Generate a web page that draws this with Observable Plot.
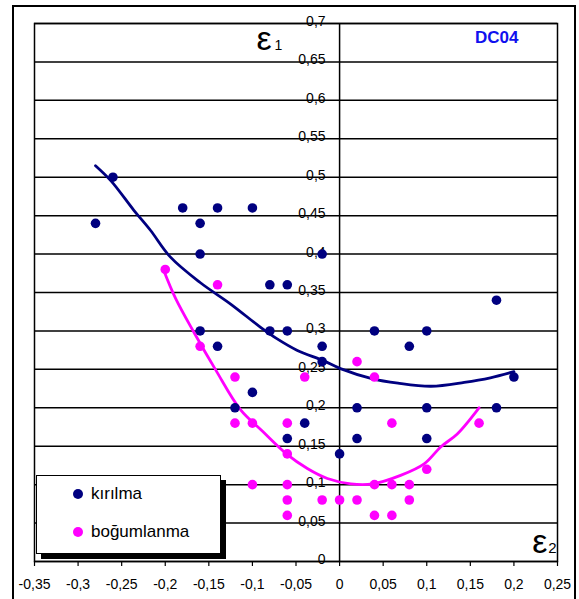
<!DOCTYPE html>
<html>
<head>
<meta charset="utf-8">
<script src="https://cdn.jsdelivr.net/npm/d3@7"></script>
<script src="https://cdn.jsdelivr.net/npm/@observablehq/plot@0.6"></script>
<style>
  html, body { margin: 0; padding: 0; background: #fff; }
  #wrap { position: relative; width: 579px; height: 599px; overflow: hidden; font-family: "Liberation Sans", Arial, sans-serif; }
  #outer { position: absolute; left: 12px; top: 5px; width: 560px; height: 620px; border: 2px solid #000; pointer-events: none; }
  #legend { position: absolute; left: 36px; top: 475px; width: 183px; height: 77px; border: 1.5px solid #000; background: #fff; box-shadow: 5px 5px 0 #000; }
  .item { position: absolute; left: 0; height: 20px; display: flex; align-items: center; font-size: 17px; color: #000; }
  .dot { display: inline-block; width: 10px; height: 10px; border-radius: 50%; margin-left: 36px; margin-right: 8px; }
</style>
</head>
<body>
<div id="wrap"></div>
<script>
// ---- data ----
const seriesNames = ["kırılma", "boğumlanma"];
const seriesColors = ["#000080", "#ff00ff"];

const kirilmaX = [-0.28, -0.26, -0.18, -0.16, -0.14, -0.10, -0.16, -0.08, -0.06, -0.02, 0.18, -0.16, -0.08, -0.06, -0.14, -0.02, -0.02, -0.10, -0.12, -0.04, -0.06, 0.00, 0.02, 0.02, 0.04, 0.10, 0.08, 0.20, 0.10, 0.18, 0.10];
const kirilmaY = [0.44, 0.50, 0.46, 0.44, 0.46, 0.46, 0.40, 0.36, 0.36, 0.40, 0.34, 0.30, 0.30, 0.30, 0.28, 0.28, 0.26, 0.22, 0.20, 0.18, 0.16, 0.14, 0.20, 0.16, 0.30, 0.30, 0.28, 0.24, 0.20, 0.20, 0.16];

const bogumX = [-0.20, -0.14, -0.16, -0.12, -0.04, 0.02, 0.04, -0.12, -0.10, -0.06, 0.06, 0.16, -0.06, 0.10, -0.10, -0.06, 0.04, 0.06, 0.08, -0.06, -0.02, 0.00, 0.02, 0.08, -0.06, 0.04, 0.06];
const bogumY = [0.38, 0.36, 0.28, 0.24, 0.24, 0.26, 0.24, 0.18, 0.18, 0.18, 0.18, 0.18, 0.14, 0.12, 0.10, 0.10, 0.10, 0.10, 0.10, 0.08, 0.08, 0.08, 0.08, 0.08, 0.06, 0.06, 0.06];

const kirilmaCurveX = [-0.28, -0.262, -0.236, -0.217, -0.194, -0.16, -0.125, -0.091, -0.072, -0.049, -0.018, 0.001, 0.037, 0.067, 0.105, 0.143, 0.173, 0.20];
const kirilmaCurveY = [0.515, 0.495, 0.457, 0.431, 0.396, 0.363, 0.335, 0.305, 0.29, 0.275, 0.261, 0.251, 0.238, 0.232, 0.228, 0.233, 0.239, 0.247];

const bogumCurveX = [-0.2025, -0.188, -0.167, -0.142, -0.114, -0.089, -0.061, -0.037, -0.014, 0.013, 0.038, 0.07, 0.097, 0.116, 0.135, 0.16];
const bogumCurveY = [0.381, 0.342, 0.298, 0.249, 0.198, 0.170, 0.140, 0.121, 0.108, 0.101, 0.101, 0.112, 0.127, 0.149, 0.166, 0.20];

const xTicks = [-0.35, -0.3, -0.25, -0.2, -0.15, -0.1, -0.05, 0, 0.05, 0.1, 0.15, 0.2, 0.25];
const yTicks = [0, 0.05, 0.1, 0.15, 0.2, 0.25, 0.3, 0.35, 0.4, 0.45, 0.5, 0.55, 0.6, 0.65, 0.7];

const chartTag = "DC04";

// ---- build ----
const fmt = d => String(Math.round(d * 100) / 100).replace(".", ",");
const zip = (xs, ys) => xs.map((x, i) => ({x, y: ys[i]}));
const kirilma = zip(kirilmaX, kirilmaY);
const bogum = zip(bogumX, bogumY);
const kCurve = zip(kirilmaCurveX, kirilmaCurveY);
const bCurve = zip(bogumCurveX, bogumCurveY);

const font = "Liberation Sans, Arial, sans-serif";

const chart = Plot.plot({
  width: 579,
  height: 599,
  marginLeft: 34,
  marginRight: 22,
  marginTop: 23,
  marginBottom: 38,
  style: {fontFamily: font, background: "white", color: "#000"},
  x: {domain: [-0.35, 0.25], label: null},
  y: {domain: [0, 0.7], axis: null, label: null},
  marks: [
    Plot.ruleY(yTicks, {stroke: "#000", strokeWidth: 1.5}),
    Plot.ruleX([0], {stroke: "#000", strokeWidth: 1.5}),
    Plot.frame({stroke: "#000", strokeWidth: 1.5}),
    Plot.axisX({ticks: xTicks, tickFormat: fmt, tickSize: 5, tickPadding: 13, fontSize: 14, stroke: "#000", fill: "#000", strokeWidth: 1.2, label: null}),
    Plot.text(yTicks, {x: 0, y: d => d, text: fmt, textAnchor: "end", dx: -14, dy: -2, fontSize: 14, fill: "#000"}),
    Plot.line(kCurve, {x: "x", y: "y", stroke: seriesColors[0], strokeWidth: 2.8, curve: "catmull-rom"}),
    Plot.line(bCurve, {x: "x", y: "y", stroke: seriesColors[1], strokeWidth: 2.8, curve: "catmull-rom"}),
    Plot.dot(kirilma, {x: "x", y: "y", r: 4.8, fill: seriesColors[0]}),
    Plot.dot(bogum, {x: "x", y: "y", r: 4.8, fill: seriesColors[1]}),
    Plot.text([chartTag], {frameAnchor: "top-right", textAnchor: "end", lineAnchor: "top", dx: -39, dy: 7, fontSize: 17, fontWeight: "bold", fill: "#1010ee"}),
    Plot.text(["ε"], {frameAnchor: "top-left", textAnchor: "start", lineAnchor: "bottom", dx: 222, dy: 26, fontSize: 34, fill: "#000"}),
    Plot.text(["1"], {frameAnchor: "top-left", textAnchor: "start", lineAnchor: "bottom", dx: 240, dy: 26, fontSize: 14, fill: "#000"}),
    Plot.text(["ε"], {frameAnchor: "bottom-right", textAnchor: "end", lineAnchor: "bottom", dx: -10, dy: -9, fontSize: 34, fill: "#000"}),
    Plot.text(["2"], {frameAnchor: "bottom-right", textAnchor: "end", lineAnchor: "bottom", dx: -1, dy: -9, fontSize: 15, fill: "#000"})
  ]
});

const wrap = document.getElementById("wrap");
wrap.appendChild(chart);

const outer = document.createElement("div");
outer.id = "outer";
wrap.appendChild(outer);

const legend = document.createElement("div");
legend.id = "legend";
const rowTops = [8, 46];
seriesNames.forEach((name, i) => {
  const item = document.createElement("div");
  item.className = "item";
  item.style.top = rowTops[i] + "px";
  const dot = document.createElement("span");
  dot.className = "dot";
  dot.style.background = seriesColors[i];
  item.appendChild(dot);
  item.appendChild(document.createTextNode(name));
  legend.appendChild(item);
});
wrap.appendChild(legend);
</script>
</body>
</html>
